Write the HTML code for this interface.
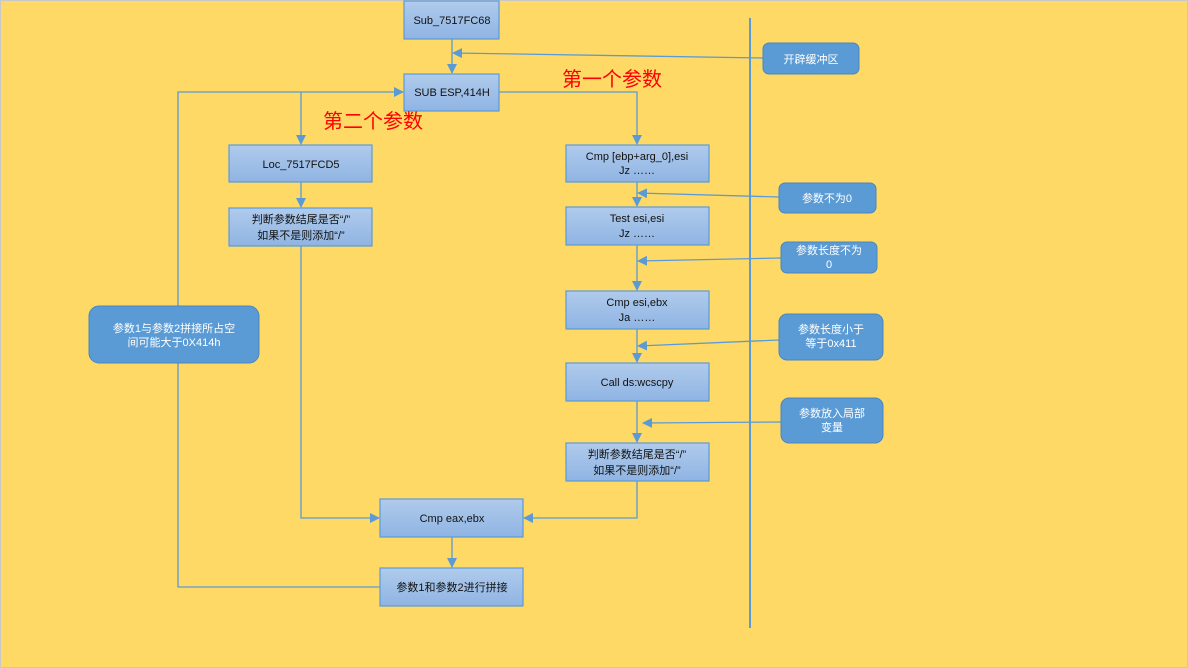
<!DOCTYPE html>
<html><head><meta charset="utf-8"><style>
html,body{margin:0;padding:0;width:1188px;height:668px;overflow:hidden;background:#FFD966}
text{font-family:"Liberation Sans","Noto Sans CJK SC",sans-serif}
</style></head><body>
<svg width="1188" height="668" xmlns="http://www.w3.org/2000/svg">
<defs>
<linearGradient id="g" x1="0" y1="0" x2="0" y2="1"><stop offset="0" stop-color="#b0cbec"/><stop offset="1" stop-color="#8fb4e3"/></linearGradient>
<marker id="a" markerWidth="10" markerHeight="10" refX="9" refY="5" orient="auto" markerUnits="userSpaceOnUse"><path d="M0,0 L10,5 L0,10 z" fill="#5b9bd5"/></marker>
</defs>
<rect x="0" y="0" width="1188" height="668" fill="#FFD966" stroke="#c8c8c8" stroke-width="2"/>
<g fill="none" stroke="#5b9bd5" stroke-width="1.3">
<line x1="750" y1="18" x2="750" y2="628" stroke-width="2"/>
<line x1="452" y1="39" x2="452" y2="73" marker-end="url(#a)"/>
<line x1="763" y1="58" x2="453" y2="53" marker-end="url(#a)"/>
<polyline points="499,92 637,92 637,144" marker-end="url(#a)"/>
<polyline points="380,587 178,587 178,92 403,92" marker-end="url(#a)"/>
<line x1="301" y1="92" x2="301" y2="144" marker-end="url(#a)"/>
<line x1="301" y1="182" x2="301" y2="207" marker-end="url(#a)"/>
<polyline points="301,246 301,518 379,518" marker-end="url(#a)"/>
<line x1="637" y1="182" x2="637" y2="206" marker-end="url(#a)"/>
<line x1="637" y1="245" x2="637" y2="290" marker-end="url(#a)"/>
<line x1="637" y1="329" x2="637" y2="362" marker-end="url(#a)"/>
<line x1="637" y1="401" x2="637" y2="442" marker-end="url(#a)"/>
<polyline points="637,481 637,518 524,518" marker-end="url(#a)"/>
<line x1="452" y1="537" x2="452" y2="567" marker-end="url(#a)"/>
<line x1="779" y1="197" x2="638" y2="193" marker-end="url(#a)"/>
<line x1="781" y1="258" x2="638" y2="261" marker-end="url(#a)"/>
<line x1="779" y1="340" x2="638" y2="346" marker-end="url(#a)"/>
<line x1="781" y1="422" x2="643" y2="423" marker-end="url(#a)"/>
</g>
<g fill="url(#g)" stroke="#5b9bd5" stroke-width="1.2">
<rect x="404" y="1" width="95" height="38"/>
<rect x="404" y="74" width="95" height="37"/>
<rect x="229" y="145" width="143" height="37"/>
<rect x="229" y="208" width="143" height="38"/>
<rect x="566" y="145" width="143" height="37"/>
<rect x="566" y="207" width="143" height="38"/>
<rect x="566" y="291" width="143" height="38"/>
<rect x="566" y="363" width="143" height="38"/>
<rect x="566" y="443" width="143" height="38"/>
<rect x="380" y="499" width="143" height="38"/>
<rect x="380" y="568" width="143" height="38"/>
</g>
<g fill="#5b9bd5" stroke="#4a86c0" stroke-width="1">
<rect x="89" y="306" width="170" height="57" rx="10"/>
<rect x="763" y="43" width="96" height="31" rx="6"/>
<rect x="779" y="183" width="97" height="30" rx="6"/>
<rect x="781" y="242" width="96" height="31" rx="6"/>
<rect x="779" y="314" width="104" height="46" rx="8"/>
<rect x="781" y="398" width="102" height="45" rx="8"/>
</g>
<g font-size="11" fill="#111" text-anchor="middle">
<text x="452" y="24">Sub_7517FC68</text>
<text x="452" y="96">SUB ESP,414H</text>
<text x="301" y="168">Loc_7517FCD5</text>
<text x="301" y="223">判断参数结尾是否“/”</text>
<text x="301" y="239">如果不是则添加“/”</text>
<text x="637" y="160">Cmp [ebp+arg_0],esi</text>
<text x="637" y="174">Jz ……</text>
<text x="637" y="222">Test esi,esi</text>
<text x="637" y="237">Jz ……</text>
<text x="637" y="306">Cmp esi,ebx</text>
<text x="637" y="321">Ja ……</text>
<text x="637" y="386">Call ds:wcscpy</text>
<text x="637" y="458">判断参数结尾是否“/”</text>
<text x="637" y="474">如果不是则添加“/”</text>
<text x="452" y="522">Cmp eax,ebx</text>
<text x="452" y="591">参数1和参数2进行拼接</text>
</g>
<g font-size="11" fill="#fff" text-anchor="middle">
<text x="174" y="332">参数1与参数2拼接所占空</text>
<text x="174" y="346">间可能大于0X414h</text>
<text x="811" y="63">开辟缓冲区</text>
<text x="827" y="202">参数不为0</text>
<text x="829" y="254">参数长度不为</text>
<text x="829" y="268">0</text>
<text x="831" y="333">参数长度小于</text>
<text x="831" y="347">等于0x411</text>
<text x="832" y="417">参数放入局部</text>
<text x="832" y="431">变量</text>
</g>
<g font-size="20" fill="#ff0000">
<text x="562" y="86">第一个参数</text>
<text x="323" y="128">第二个参数</text>
</g>
</svg>
</body></html>
